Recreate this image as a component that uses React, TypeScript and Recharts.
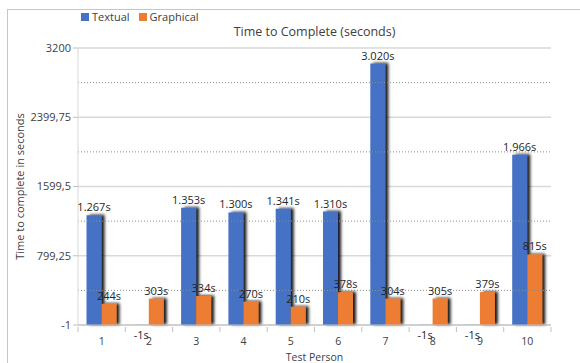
import React from "react";
import {
  Bar,
  BarChart,
  CartesianGrid,
  LabelList,
  Label,
  ReferenceLine,
  XAxis,
  YAxis,
} from "recharts";

const persons = ["1", "2", "3", "4", "5", "6", "7", "8", "9", "10"];
const textual = [1267, -1, 1353, 1300, 1341, 1310, 3020, -1, -1, 1966];
const graphical = [244, 303, 334, 270, 210, 378, 304, 305, 379, 815];
const yTicks = [-1, 799.25, 1599.5, 2399.75, 3200];
const minorLines = [399.125, 1199.375, 1999.625, 2799.875];

const blue = "#4472C4";
const orange = "#ED7D31";
const textColor = "#404040";
const font = "'Open Sans', sans-serif";

const W = 580;
const H = 363;
const margin = { top: 48, right: 29, bottom: 0, left: 0 };
const yAxisWidth = 78;
const band = (W - yAxisWidth - margin.right) / persons.length;

const data = persons.map((p, i) => ({ person: p, textual: textual[i], graphical: graphical[i] }));

const fmtTick = (v: number) => String(v).replace(".", ",");
const fmtSeconds = (v: number) => v.toLocaleString("de-DE") + "s";

// labels sit above the bar, or under the baseline for negative values
function ValueLabel(props: any) {
  const { x, y, width, height, value } = props;
  const cx = Number(x) + Number(width) / 2;
  const below = Number(value) < 0;
  const ty = below ? Number(y) + Number(height) + 14 : Number(y) - 4;
  return (
    <text x={cx} y={ty} textAnchor="middle" fontSize={11} fill="#262626" fontFamily={font}>
      {fmtSeconds(Number(value))}
    </text>
  );
}

// category label plus tick marks on the band edges
function PersonTick(props: any) {
  const { x, y, payload, index } = props;
  const left = x - band / 2;
  return (
    <g>
      <line x1={left} y1={y} x2={left} y2={y + 5} stroke="#bfbfbf" />
      {index === persons.length - 1 && (
        <line x1={x + band / 2} y1={y} x2={x + band / 2} y2={y + 5} stroke="#bfbfbf" />
      )}
      <text x={x} y={y + 18} textAnchor="middle" fontSize={10.5} fill={textColor} fontFamily={font}>
        {payload.value}
      </text>
    </g>
  );
}

function LegendItem({ color, text }: { color: string; text: string }) {
  return (
    <span style={{ display: "inline-flex", alignItems: "center", marginRight: 9 }}>
      <span style={{ width: 8, height: 8, background: color, marginRight: 3 }} />
      {text}
    </span>
  );
}

export default function App() {
  return (
    <div
      style={{
        position: "absolute",
        left: 0,
        top: 0,
        width: W,
        height: H,
        overflow: "hidden",
        background: "#fff",
        fontFamily: font,
        color: textColor,
      }}
    >
      <div
        style={{
          position: "absolute",
          left: 7,
          top: 9,
          width: 700,
          height: 500,
          borderTop: "1px solid #c6c6c6",
          borderLeft: "1px solid #c6c6c6",
        }}
      />
      <div style={{ position: "absolute", left: 81, top: 9, fontSize: 11, display: "flex" }}>
        <LegendItem color={blue} text="Textual" />
        <LegendItem color={orange} text="Graphical" />
      </div>
      <div
        style={{
          position: "absolute",
          left: yAxisWidth,
          width: W - yAxisWidth - margin.right,
          top: 23,
          textAlign: "center",
          fontSize: 12.5,
        }}
      >
        Time to Complete (seconds)
      </div>
      <div style={{ position: "absolute", left: 0, top: 0 }}>
        <BarChart width={W} height={H} data={data} margin={margin} barCategoryGap="18%" barGap={0}>
          <defs>
            <filter id="barShadow" x="-40%" y="-10%" width="180%" height="120%">
              <feDropShadow dx={3} dy={-0.5} stdDeviation={1.6} floodColor="#000" floodOpacity={0.9} />
            </filter>
          </defs>
          <CartesianGrid vertical={false} stroke="#d9d9d9" strokeWidth={1.5} />
          {minorLines.map((v) => (
            <ReferenceLine key={v} y={v} stroke="#8c8c8c" strokeDasharray="1 2" />
          ))}
          <XAxis
            dataKey="person"
            height={H - 325}
            axisLine={{ stroke: "#bfbfbf" }}
            tickLine={false}
            tickSize={0}
            tick={<PersonTick />}
            interval={0}
          >
            <Label
              value="Test Person"
              position="insideBottom"
              offset={2}
              fontSize={10.5}
              fill={textColor}
              fontFamily={font}
            />
          </XAxis>
          <YAxis
            width={yAxisWidth}
            domain={[-1, 3200]}
            ticks={yTicks}
            tickFormatter={fmtTick}
            axisLine={{ stroke: "#d9d9d9" }}
            tickLine={{ stroke: "#bfbfbf" }}
            tickSize={5}
            tick={{ fontSize: 11, fill: textColor, fontFamily: font }}
          >
            <Label
              value="Time to complete in seconds"
              angle={-90}
              position="insideLeft"
              offset={20}
              style={{ textAnchor: "middle" }}
              fontSize={11}
              fill={textColor}
              fontFamily={font}
            />
          </YAxis>
          <Bar dataKey="textual" fill={blue} filter="url(#barShadow)" isAnimationActive={false}>
            <LabelList dataKey="textual" content={<ValueLabel />} />
          </Bar>
          <Bar dataKey="graphical" fill={orange} filter="url(#barShadow)" isAnimationActive={false}>
            <LabelList dataKey="graphical" content={<ValueLabel />} />
          </Bar>
        </BarChart>
      </div>
    </div>
  );
}
